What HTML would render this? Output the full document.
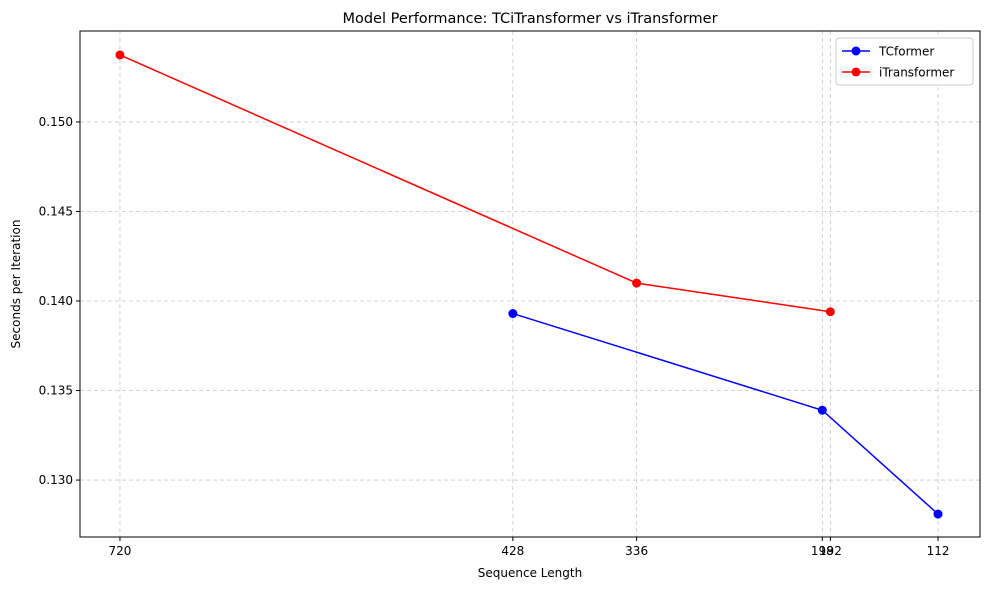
<!DOCTYPE html>
<html><head><meta charset="utf-8"><style>
body{margin:0;background:#fff;font-family:"Liberation Sans","DejaVu Sans",sans-serif}
</style></head><body>
<svg id="chart" width="989" height="590" xmlns="http://www.w3.org/2000/svg" font-family="DejaVu Sans, Liberation Sans, sans-serif"></svg>
<script>
const xTicks=[720,428,336,198,192,112];
const yTicks=[0.130,0.135,0.140,0.145,0.150];
const tcX=[428,198,112];
const tcY=[0.1393,0.1339,0.1281];
const itX=[720,336,192];
const itY=[0.15374,0.1410,0.1394];
const L=80,R=980,T=31,B=537;
const xMin=749.7,xMax=80.8,yMin=0.12682,yMax=0.15508;
const sx=v=>L+(xMin-v)/(xMin-xMax)*(R-L);
const sy=v=>B-(v-yMin)/(yMax-yMin)*(B-T);
const svg=document.getElementById('chart');
const NS='http://www.w3.org/2000/svg';
function mk(tag,attrs,parent){const e=document.createElementNS(NS,tag);for(const k in attrs)e.setAttribute(k,attrs[k]);(parent||svg).appendChild(e);return e;}
xTicks.forEach(v=>{
 const g=mk('line',{x1:sx(v),x2:sx(v),y1:T,y2:B,stroke:'#b0b0b0','stroke-dasharray':'4,3','stroke-width':0.8,opacity:0.7});
 
 
 const t=mk('line',{x1:sx(v),x2:sx(v),y1:B,y2:B+4,stroke:'#000'});
 
 
 const lb=mk('text',{x:sx(v),y:B+18,'text-anchor':'middle','font-size':12});
 lb.textContent=v;
 
 
});
yTicks.forEach(v=>{
 const g=mk('line',{x1:L,x2:R,y1:sy(v),y2:sy(v),stroke:'#b0b0b0','stroke-dasharray':'4,3','stroke-width':0.8,opacity:0.7});
 
 
 const t=mk('line',{x1:L-4,x2:L,y1:sy(v),y2:sy(v),stroke:'#000'});
 
 
 const lb=mk('text',{x:L-7,y:sy(v)+4,'text-anchor':'end','font-size':12});
 lb.textContent=v.toFixed(3);
 
 
});
const frame=mk('rect',{x:L,y:T,width:R-L,height:B-T,fill:'none',stroke:'#000','stroke-width':1});


function series(xs,ys,color,name){
 const p=mk('polyline',{points:xs.map((x,i)=>sx(x)+','+sy(ys[i])).join(' '),fill:'none',stroke:color,'stroke-width':1.5});
 
 
 xs.forEach((x,i)=>{
  const c=mk('circle',{cx:sx(x),cy:sy(ys[i]),r:4.5,fill:color});
  
  
 });
}
series(tcX,tcY,'#0000ff','tcformer');
series(itX,itY,'#ff0000','itransformer');
const title=mk('text',{x:(L+R)/2,y:23,'text-anchor':'middle','font-size':14.5});
title.textContent='Model Performance: TCiTransformer vs iTransformer';


const xt=mk('text',{x:(L+R)/2,y:577,'text-anchor':'middle','font-size':12});
xt.textContent='Sequence Length';


const yt=mk('text',{x:20,y:(T+B)/2,'text-anchor':'middle','font-size':12,transform:'rotate(-90 20 '+((T+B)/2)+')'});
yt.textContent='Seconds per Iteration';


const lg=mk('g',{});


mk('rect',{x:836,y:38,width:137,height:47,rx:3,fill:'#fff',stroke:'#ccc'},lg);
[['TCformer','#0000ff',51],['iTransformer','#ff0000',72]].forEach(([n,c,y])=>{
 const e=mk('g',{},lg);
 
 
 mk('line',{x1:842,x2:870,y1:y,y2:y,stroke:c,'stroke-width':1.5},e);
 mk('circle',{cx:856,cy:y,r:4.5,fill:c},e);
 const t=mk('text',{x:879,y:y+4.5,'font-size':12},e);
 t.textContent=n;
});
</script>
</body></html>
